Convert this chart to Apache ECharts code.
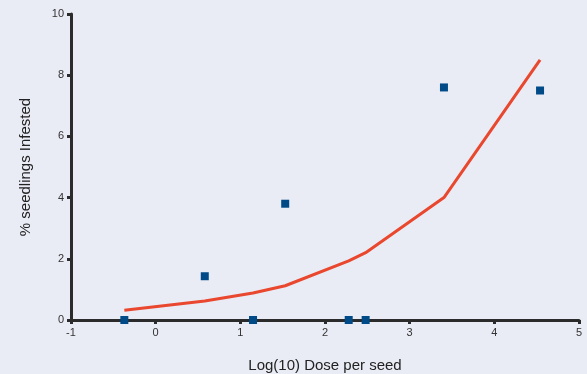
<!DOCTYPE html>
<html><head><meta charset="utf-8">
<script src="https://cdn.jsdelivr.net/npm/echarts@6/dist/echarts.min.js"></script>
<style>html,body{margin:0;padding:0;background:#e9ebf5;}#c{width:587px;height:374px;}</style>
</head><body><div id="c"></div>
<script>
const doseX = [-0.37, 0.58, 1.15, 1.53, 2.28, 2.48, 3.405, 4.54];
const observedY = [0, 1.43, 0, 3.8, 0, 0, 7.6, 7.5];
const fittedY = [0.32, 0.62, 0.88, 1.12, 1.93, 2.2, 4.0, 8.5];
const xTicks = [-1, 0, 1, 2, 3, 4, 5];
const yTicks = [0, 2, 4, 6, 8, 10];

const chart = echarts.init(document.getElementById('c'));
const axisCommon = {
  axisLine: {show: true, onZero: false, lineStyle: {color: '#2b2b2b', width: 3}},
  axisTick: {show: true, length: 4, lineStyle: {color: '#2b2b2b', width: 3}},
  splitLine: {show: false},
  axisLabel: {color: '#333', fontSize: 11, fontFamily: 'Liberation Sans, Arial, sans-serif', margin: 7},
  nameTextStyle: {color: '#222', fontSize: 15, fontFamily: 'Liberation Sans, Arial, sans-serif'}
};
chart.setOption({
  backgroundColor: '#e9ebf5',
  animation: false,
  grid: {left: 71, right: 8, top: 14, bottom: 54, outerBoundsMode: 'none'},
  xAxis: Object.assign({}, axisCommon, {
    type: 'value', min: xTicks[0], max: xTicks[xTicks.length-1], interval: 1,
    name: 'Log(10) Dose per seed', nameLocation: 'middle', nameGap: 38
  }),
  yAxis: Object.assign({}, axisCommon, {
    type: 'value', min: yTicks[0], max: yTicks[yTicks.length-1], interval: 2,
    name: '% seedlings Infested', nameLocation: 'middle', nameGap: 38
  }),
  series: [
    {type: 'line', data: doseX.map((x,i)=>[x, fittedY[i]]), showSymbol: false, symbol: 'none',
     lineStyle: {color: '#e9472e', width: 3}, z: 2},
    {type: 'scatter', data: doseX.map((x,i)=>[x, observedY[i]]), symbol: 'rect', symbolSize: 8,
     itemStyle: {color: '#004a87', opacity: 1}, z: 5}
  ]
});
</script></body></html>
